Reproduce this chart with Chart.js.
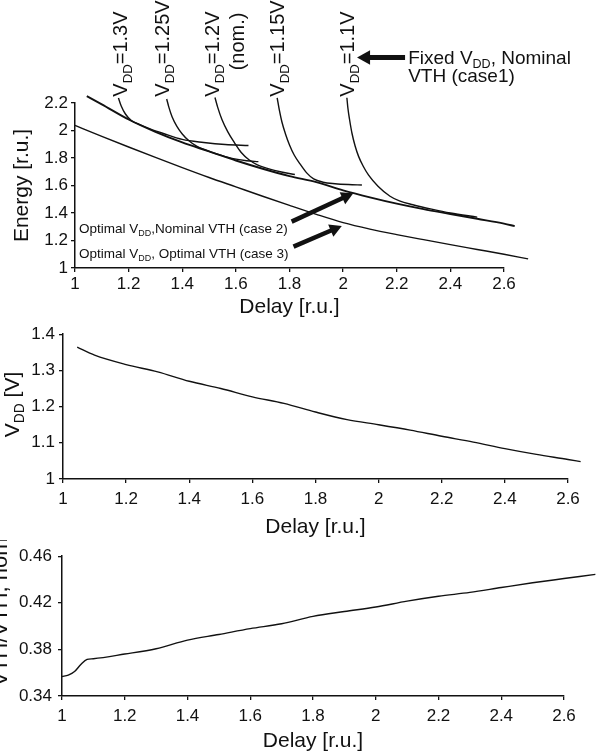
<!DOCTYPE html>
<html>
<head>
<meta charset="utf-8">
<title>Energy, VDD and VTH versus delay</title>
<script src="https://cdn.jsdelivr.net/npm/chart.js@4.4.1/dist/chart.umd.min.js"></script>
<style>
  body { margin: 0; background: #fff; }
  #wrap { position: relative; width: 601px; height: 756px; overflow: hidden; }
  canvas { position: absolute; left: 0; }
</style>
</head>
<body>
<div id="wrap">
  <canvas id="energyChart" width="601" height="320" style="top:0"></canvas>
  <canvas id="vddChart" width="601" height="220" style="top:320px"></canvas>
  <canvas id="vthChart" width="601" height="216" style="top:540px"></canvas>
</div>
<script>
const FONT = '"Liberation Sans", Arial, Helvetica, sans-serif';
const INK = '#111';

// Tick values
const delayTicks = [1, 1.2, 1.4, 1.6, 1.8, 2, 2.2, 2.4, 2.6];
const energyTicks = [1, 1.2, 1.4, 1.6, 1.8, 2, 2.2];
const vddTicks = [1, 1.1, 1.2, 1.3, 1.4];
const vthTicks = [0.34, 0.38, 0.42, 0.46];

// Case 2: optimal VDD, nominal VTH
const case2Delay = [1.044, 1.1, 1.2, 1.3, 1.4, 1.5, 1.6, 1.7, 1.8, 1.9, 2.0, 2.1, 2.2, 2.3, 2.4, 2.5, 2.6, 2.64];
const case2Energy = [2.25, 2.19, 2.08, 1.99, 1.913, 1.848, 1.782, 1.722, 1.668, 1.625, 1.565, 1.514, 1.468, 1.428, 1.393, 1.358, 1.323, 1.305];

// Case 3: optimal VDD, optimal VTH
const case3Delay = [1.0, 1.1, 1.2, 1.3, 1.4, 1.5, 1.6, 1.7, 1.8, 1.9, 2.0, 2.1, 2.2, 2.3, 2.4, 2.5, 2.6, 2.69];
const case3Energy = [2.037, 1.958, 1.88, 1.804, 1.73, 1.658, 1.59, 1.522, 1.455, 1.39, 1.33, 1.283, 1.243, 1.206, 1.17, 1.135, 1.1, 1.066];

// Case 1: fixed VDD, nominal VTH
const fixedVddLabels = ['1.3V', '1.25V', '1.2V', '1.15V', '1.1V'];
const fixed130Delay = [1.162, 1.172, 1.188, 1.21, 1.24, 1.28, 1.33, 1.4, 1.48, 1.56, 1.647];
const fixed130Energy = [2.236, 2.18, 2.12, 2.073, 2.045, 2.012, 1.978, 1.935, 1.913, 1.898, 1.891];
const fixed125Delay = [1.342, 1.35, 1.362, 1.38, 1.4, 1.425, 1.455, 1.49, 1.54, 1.59, 1.64, 1.684];
const fixed125Energy = [2.229, 2.17, 2.1, 2.03, 1.975, 1.925, 1.884, 1.856, 1.823, 1.795, 1.78, 1.774];
const fixed120Delay = [1.522, 1.532, 1.548, 1.57, 1.595, 1.62, 1.65, 1.68, 1.72, 1.77, 1.82];
const fixed120Energy = [2.24, 2.17, 2.08, 1.99, 1.91, 1.84, 1.785, 1.75, 1.723, 1.698, 1.68];
const fixed115Delay = [1.754, 1.762, 1.772, 1.785, 1.8, 1.818, 1.84, 1.865, 1.89, 1.925, 1.97, 2.02, 2.07];
const fixed115Energy = [2.238, 2.15, 2.06, 1.975, 1.895, 1.82, 1.755, 1.69, 1.648, 1.624, 1.613, 1.607, 1.604];
const fixed110Delay = [2.014, 2.018, 2.024, 2.033, 2.045, 2.058, 2.075, 2.095, 2.13, 2.175, 2.21, 2.26, 2.33, 2.4, 2.5];
const fixed110Energy = [2.238, 2.16, 2.08, 1.98, 1.885, 1.81, 1.74, 1.675, 1.595, 1.522, 1.488, 1.46, 1.428, 1.4, 1.37];

// Optimal VDD for case 3
const vddDelay = [1.045, 1.1, 1.2, 1.3, 1.4, 1.5, 1.6, 1.7, 1.8, 1.9, 2.0, 2.1, 2.2, 2.3, 2.4, 2.5, 2.6, 2.64];
const vddValue = [1.364, 1.342, 1.316, 1.296, 1.27, 1.25, 1.227, 1.209, 1.185, 1.164, 1.15, 1.135, 1.118, 1.102, 1.084, 1.068, 1.054, 1.048];

// Optimal VTH / nominal VTH for case 3
const vthDelay = [1.0, 1.02, 1.04, 1.06, 1.08, 1.1, 1.2, 1.3, 1.4, 1.5, 1.6, 1.7, 1.8, 1.9, 2.0, 2.1, 2.2, 2.3, 2.4, 2.5, 2.6, 2.7];
const vthRatio = [0.3567, 0.358, 0.361, 0.367, 0.3714, 0.372, 0.376, 0.3806, 0.388, 0.3928, 0.3978, 0.402, 0.4083, 0.4125, 0.4164, 0.4214, 0.4256, 0.4289, 0.4331, 0.4372, 0.4408, 0.4444];

const toPoints = (xs, ys) => xs.map((x, i) => ({ x: x, y: ys[i] }));

function curve(xs, ys, width) {
	return {
		data: toPoints(xs, ys),
		borderColor: INK,
		borderWidth: width || 1.4,
		pointRadius: 0,
		fill: false,
		cubicInterpolationMode: 'monotone',
		clip: false
	};
}

// draw text with optional subscripts; (x, y) is the centre line of the capitals
function drawRich(ctx, parts, x, y, size, align, rotate) {
	ctx.save();
	ctx.translate(x, y);
	if (rotate) ctx.rotate(-Math.PI / 2);
	ctx.fillStyle = INK;
	ctx.textBaseline = 'alphabetic';
	ctx.textAlign = 'left';
	let w = 0;
	parts.forEach(p => {
		ctx.font = (p.sub ? size * 0.66 : size) + 'px ' + FONT;
		w += ctx.measureText(p.t).width;
	});
	let cx = align === 'right' ? -w : align === 'center' ? -w / 2 : 0;
	const base = size * 0.36;
	parts.forEach(p => {
		ctx.font = (p.sub ? size * 0.66 : size) + 'px ' + FONT;
		ctx.fillText(p.t, cx, base + (p.sub ? size * 0.24 : 0));
		cx += ctx.measureText(p.t).width;
	});
	ctx.restore();
}

function drawArrow(ctx, x0, y0, x1, y1, width, head) {
	const len = Math.hypot(x1 - x0, y1 - y0);
	ctx.save();
	ctx.translate(x1, y1);
	ctx.rotate(Math.atan2(y1 - y0, x1 - x0));
	ctx.fillStyle = INK;
	ctx.fillRect(-len, -width / 2, len - head + 1, width);
	ctx.beginPath();
	ctx.moveTo(0, 0);
	ctx.lineTo(-head, -head * 0.55);
	ctx.lineTo(-head, head * 0.55);
	ctx.closePath();
	ctx.fill();
	ctx.restore();
}

// bounds are set after the data limits (not as min/max) so that points
// just past the last tick are still drawn, as in the original figure
function axisOptions(ticks, opts) {
	return Object.assign({
		type: 'linear',
		afterDataLimits: s => { s.min = ticks[0]; s.max = ticks[ticks.length - 1]; },
		afterBuildTicks: axis => { axis.ticks = ticks.map(v => ({ value: v })); },
		ticks: {
			color: INK,
			font: { family: FONT, size: 17 },
			callback: v => String(+v.toFixed(2))
		},
		grid: { display: true, drawOnChartArea: false, drawTicks: true, tickLength: 4, color: INK, lineWidth: 1.3 },
		border: { display: true, color: INK, width: 1.5 }
	}, opts);
}

function delayAxis(height, pad, titlePad) {
	const a = axisOptions(delayTicks, {
		title: { display: true, text: 'Delay [r.u.]', color: INK, font: { family: FONT, size: 21 }, padding: { top: 0, bottom: titlePad } },
		afterFit: s => { s.height = height; }
	});
	a.ticks.padding = pad;
	a.ticks.maxRotation = 0;
	return a;
}

const baseOptions = {
	responsive: false,
	animation: false,
	plugins: { legend: { display: false }, tooltip: { enabled: false } },
	events: []
};

// ---- top panel ----
const energyNotes = {
	id: 'energyNotes',
	afterDraw(chart) {
		const ctx = chart.ctx;
		const px = v => chart.scales.x.getPixelForValue(v);
		const py = v => chart.scales.y.getPixelForValue(v);
		const labelDelay = [1.168, 1.325, 1.511, 1.754, 2.015];
		fixedVddLabels.forEach((lab, i) => {
			drawRich(ctx, [{ t: 'V' }, { t: 'DD', sub: true }, { t: '=' + lab }], px(labelDelay[i]), py(2.246), 20, 'left', true);
		});
		drawRich(ctx, [{ t: '(nom.)' }], px(1.604), py(2.858), 20, 'right', true);
		drawRich(ctx, [{ t: 'Fixed V' }, { t: 'DD', sub: true }, { t: ', Nominal' }], px(2.2425), py(2.537), 19, 'left', false);
		drawRich(ctx, [{ t: 'VTH (case1)' }], px(2.2425), py(2.399), 19, 'left', false);
		drawArrow(ctx, px(2.231), py(2.531), px(2.052), py(2.531), 5, 13);
		drawRich(ctx, [{ t: 'Optimal V' }, { t: 'DD', sub: true }, { t: ',Nominal VTH (case 2)' }], px(1.015), py(1.291), 13.5, 'left', false);
		drawRich(ctx, [{ t: 'Optimal V' }, { t: 'DD', sub: true }, { t: ', Optimal VTH (case 3)' }], px(1.015), py(1.109), 13.5, 'left', false);
		drawArrow(ctx, px(1.808), py(1.337), px(2.038), py(1.544), 4.5, 12);
		drawArrow(ctx, px(1.815), py(1.155), px(1.995), py(1.306), 4.5, 12);
	}
};

new Chart(document.getElementById('energyChart'), {
	type: 'line',
	data: {
		datasets: [
			curve(case2Delay, case2Energy, 1.9),
			curve(case3Delay, case3Energy, 1.4),
			curve(fixed130Delay, fixed130Energy),
			curve(fixed125Delay, fixed125Energy),
			curve(fixed120Delay, fixed120Energy),
			curve(fixed115Delay, fixed115Energy),
			curve(fixed110Delay, fixed110Energy)
		]
	},
	options: Object.assign({}, baseOptions, {
		layout: { padding: { top: 103, right: 97, bottom: 0, left: 0 } },
		scales: {
			x: delayAxis(52, 2, 0),
			y: axisOptions(energyTicks, {
				title: { display: true, text: 'Energy [r.u.]', color: INK, font: { family: FONT, size: 21 }, padding: { top: 10, bottom: 0 } },
				afterFit: s => { s.width = 75; }
			})
		}
	}),
	plugins: [energyNotes]
});
</script>
<script>
// ---- middle panel: optimal VDD ----
const vddNotes = {
	id: 'vddNotes',
	afterDraw(chart) {
		drawRich(chart.ctx, [{ t: 'V' }, { t: 'DD', sub: true }, { t: ' [V]' }], 11, 84.5, 21, 'center', true);
	}
};
const vddY = axisOptions(vddTicks, { afterFit: s => { s.width = 63; } });
vddY.ticks.padding = 4;
new Chart(document.getElementById('vddChart'), {
	type: 'line',
	data: { datasets: [curve(vddDelay, vddValue, 1.4)] },
	options: Object.assign({}, baseOptions, {
		layout: { padding: { top: 14, right: 33, bottom: 0, left: 0 } },
		scales: { x: delayAxis(61, 6, 0), y: vddY }
	}),
	plugins: [vddNotes]
});

// ---- bottom panel: VTH / VTH,nom ----
const vthNotes = {
	id: 'vthNotes',
	afterDraw(chart) {
		drawRich(chart.ctx, [{ t: 'VTH/VTH, nom' }], -1, 72, 22, 'center', true);
	}
};
const vthY = axisOptions(vthTicks, { afterFit: s => { s.width = 62; } });
vthY.ticks.padding = 6;
new Chart(document.getElementById('vthChart'), {
	type: 'line',
	data: { datasets: [curve(vthDelay, vthRatio, 1.4)] },
	options: Object.assign({}, baseOptions, {
		layout: { padding: { top: 12, right: 37, bottom: 0, left: 0 } },
		scales: { x: delayAxis(60, 6.5, 2.4), y: vthY }
	}),
	plugins: [vthNotes]
});
</script>
</body>
</html>
